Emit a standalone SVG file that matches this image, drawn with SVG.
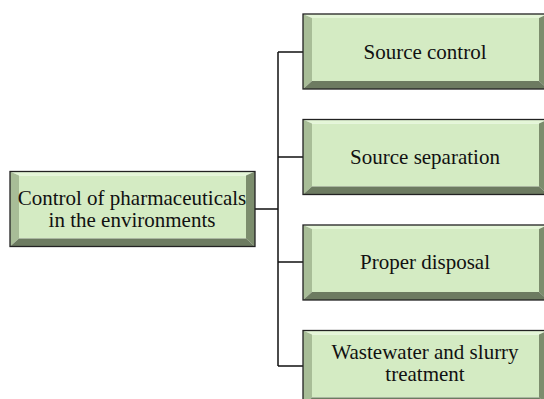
<svg xmlns="http://www.w3.org/2000/svg" xmlns:xlink="http://www.w3.org/1999/xlink" width="544" height="399" viewBox="0 0 544 399">
<style>
.t{font-family:'Liberation Serif','Times New Roman','DejaVu Serif',serif;font-size:21px;fill:#111;text-anchor:middle}
.c{fill:none;stroke:#111;stroke-width:1.5}
</style>
<defs>
<g id="bx">
<polygon points="9,4 236,4 236,67 9,67" fill="#d4ebc3"/>
<polygon points="0,0 245,0 236,4 9,4" fill="#e4f6d7"/>
<polygon points="0,0 9,4 9,67 0,75" fill="#a8bd97"/>
<polygon points="245,0 245,75 236,67 236,4" fill="#7c8d6d"/>
<polygon points="0,75 9,67 236,67 245,75" fill="#6d7b61"/>
<rect x="0" y="0" width="245" height="75" fill="none" stroke="#222" stroke-width="1.3"/>
</g>
</defs>
<g id="connectors">
<path class="c" d="M255,209H278M278,52V366M278,52H303M278,157H303M278,262H303M278,366H303"/>
</g>
<g id="root">
<use xlink:href="#bx" x="10" y="171.5"/>
<text class="t" x="132" y="204.5">Control of pharmaceuticals</text>
<text class="t" x="132" y="227">in the environments</text>
</g>
<g id="n1">
<use xlink:href="#bx" x="303" y="14"/>
<text class="t" x="425" y="59">Source control</text>
</g>
<g id="n2">
<use xlink:href="#bx" x="303" y="119.5"/>
<text class="t" x="425" y="164">Source separation</text>
</g>
<g id="n3">
<use xlink:href="#bx" x="303" y="225"/>
<text class="t" x="425" y="269">Proper disposal</text>
</g>
<g id="n4">
<use xlink:href="#bx" x="303" y="330.5"/>
<text class="t" x="425" y="358.5">Wastewater and slurry</text>
<text class="t" x="425" y="381">treatment</text>
</g>
</svg>
